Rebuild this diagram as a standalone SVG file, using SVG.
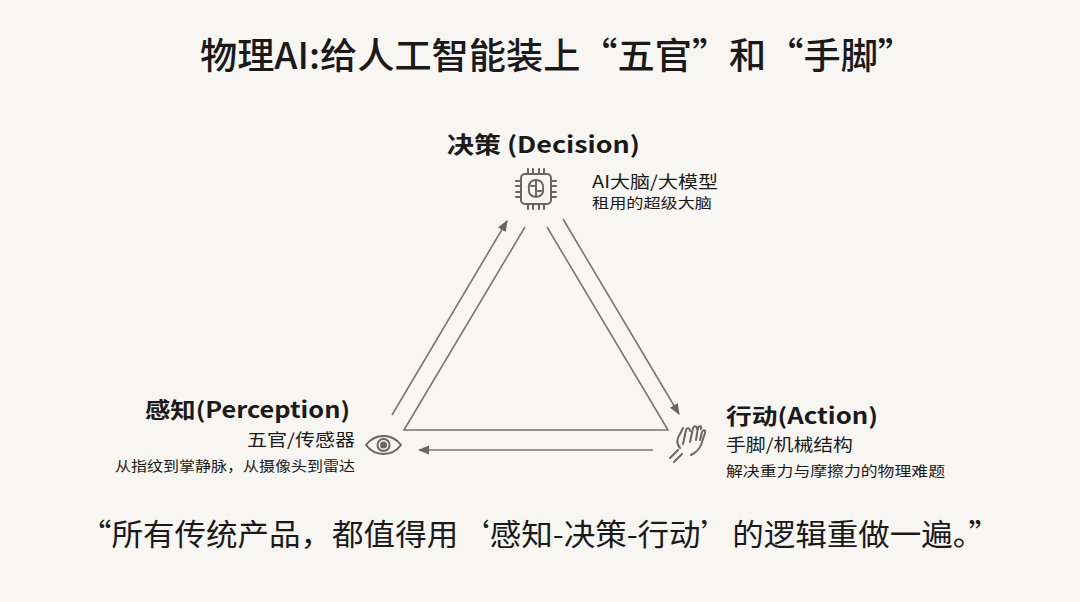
<svg xmlns="http://www.w3.org/2000/svg" width="1080" height="602" viewBox="0 0 1080 602">
<style>
.t{font-family:"Noto Sans CJK SC","Liberation Sans",sans-serif;fill:#1a1a1a}
.b{font-weight:700}
.ln{stroke:#777;stroke-width:1.6;fill:none}
.ic{stroke:#666;stroke-width:2;fill:none;stroke-linecap:round;stroke-linejoin:round}
</style>
<defs><marker id="ah" viewBox="0 0 10 10" refX="9" refY="5" markerWidth="7" markerHeight="7" orient="auto"><path d="M0,1 L10,5 L0,9 z" fill="#666"/></marker></defs>
<rect width="1080" height="602" fill="#f7f6f2"/>
<text class="t" x="200" y="69" font-size="36" font-weight="500" textLength="715" lengthAdjust="spacingAndGlyphs">物理AI:给人工智能装上“五官”和“手脚”</text>
<g id="connectors">
<path class="ln" d="M525,227 L404,430 L668,430 L547,227"/>
<line class="ln" x1="392" y1="415" x2="507" y2="221" marker-end="url(#ah)"/>
<line class="ln" x1="563" y1="219" x2="679" y2="414" marker-end="url(#ah)"/>
<line class="ln" x1="653" y1="450" x2="419" y2="450" marker-end="url(#ah)"/>
</g>
<g id="decision">
<text class="t b" x="447" y="153" font-size="23" textLength="193" lengthAdjust="spacingAndGlyphs">决策 (Decision)</text>
<g class="ic">
<rect x="521" y="174" width="30" height="30" rx="4"/>
<path d="M528,174v-5M533,174v-5M539,174v-5M544,174v-5M528,204v5M533,204v5M539,204v5M544,204v5M521,181h-5M521,186h-5M521,192h-5M521,197h-5M551,181h5M551,186h5M551,192h5M551,197h5"/>
<path d="M536,180c-5,0-8,4-7,9c-1,4,2,8,7,8zM536,180c5,0,8,4,7,9c1,4-2,8-7,8M531,186h3M538,191h3"/>
</g>
<text class="t" x="592" y="188" font-size="17" textLength="126" lengthAdjust="spacingAndGlyphs">AI大脑/大模型</text>
<text class="t" x="592" y="208" font-size="14" textLength="120" lengthAdjust="spacingAndGlyphs">租用的超级大脑</text>
</g>
<g id="perception">
<text class="t b" x="145" y="418" font-size="22" textLength="205" lengthAdjust="spacingAndGlyphs">感知(Perception)</text>
<text class="t" x="247" y="446" font-size="17" textLength="108" lengthAdjust="spacingAndGlyphs">五官/传感器</text>
<text class="t" x="115" y="471" font-size="14" textLength="240" lengthAdjust="spacingAndGlyphs">从指纹到掌静脉，从摄像头到雷达</text>
<g class="ic">
<path d="M366,445c9-12,26-12,35,0c-9,12-26,12-35,0z"/>
<circle cx="383.5" cy="445" r="6"/>
<circle cx="383.5" cy="445" r="2.5" fill="#666"/>
</g>
</g>
<g id="action">
<text class="t b" x="726" y="424" font-size="22" textLength="152" lengthAdjust="spacingAndGlyphs">行动(Action)</text>
<text class="t" x="726" y="451" font-size="17" textLength="127" lengthAdjust="spacingAndGlyphs">手脚/机械结构</text>
<text class="t" x="726" y="476" font-size="14" textLength="219" lengthAdjust="spacingAndGlyphs">解决重力与摩擦力的物理难题</text>
<g class="ic" stroke-width="1.6">
<path d="M670,458l8-8M674,462l8-8M680,448c-4-4-3-10,0-14l3,-6M683,444l3-14c1-3,4-2,4,1M690,442l3-14c1-3,4-2,4,1M696,440l2-12c1-3,4-2,3,1M700,440l2-8c1-3,4-2,3,1l-4,12c-2,5-6,8-10,10"/>
</g>
</g>
<text class="t" x="80" y="545" font-size="30" textLength="920" lengthAdjust="spacingAndGlyphs">“所有传统产品，都值得用‘感知-决策-行动’的逻辑重做一遍。”</text>
</svg>
